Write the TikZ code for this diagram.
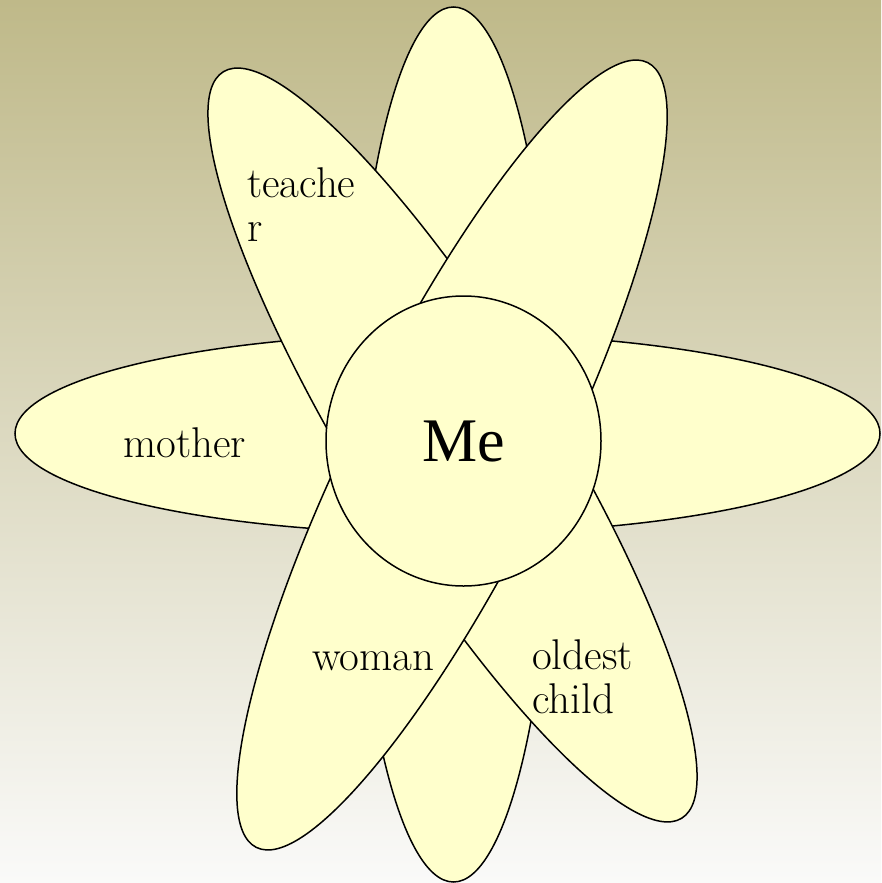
\documentclass[tikz,border=0pt]{standalone}
\usepackage{fontspec}
\usetikzlibrary{shapes.geometric}
\newfontfamily\mefont{Liberation Serif}
\definecolor{petal}{RGB}{255,255,204}
\definecolor{bgtop}{RGB}{191,185,137}
\definecolor{bgbot}{RGB}{250,250,249}
\begin{document}
\begin{tikzpicture}[x=1pt,y=-1pt,
  petalstyle/.style={draw=black, line width=1.5pt, fill=petal},
  lbl/.style={font=\fontsize{43}{44}\selectfont, inner sep=0pt, align=left, anchor=base west}]
\useasboundingbox (0,0) rectangle (881,883);
\fill[top color=bgtop, bottom color=bgbot] (0,0) rectangle (881,883);
% horizontal petal pair
\draw[petalstyle] (447.5,433.5) ellipse [x radius=432.5, y radius=100];
% vertical petal pair
\draw[petalstyle] (453.5,444.5) ellipse [x radius=100, y radius=437.5];
% teacher / oldest child diagonal
\draw[petalstyle, rotate around={-58.45:(452.5,445)}] (452.5,445) ellipse [x radius=438, y radius=100];
% woman diagonal
\draw[petalstyle, rotate around={63.5:(452,455)}] (452,455) ellipse [x radius=438.5, y radius=100];
% centre
\node[petalstyle, ellipse, minimum width=275pt, minimum height=290pt, inner sep=0pt,
      font=\mefont\fontsize{62}{62}\selectfont] (me) at (463.5,441) {Me};
% labels (base anchor = last line)
\node[lbl] (teacher) at (247,241) {teache\\r};
\node[lbl] (mother) at (123,457) {mother};
\node[lbl] (woman) at (312,670) {woman};
\node[lbl] (oldest) at (532,713) {oldest\\child};
\end{tikzpicture}
\end{document}
